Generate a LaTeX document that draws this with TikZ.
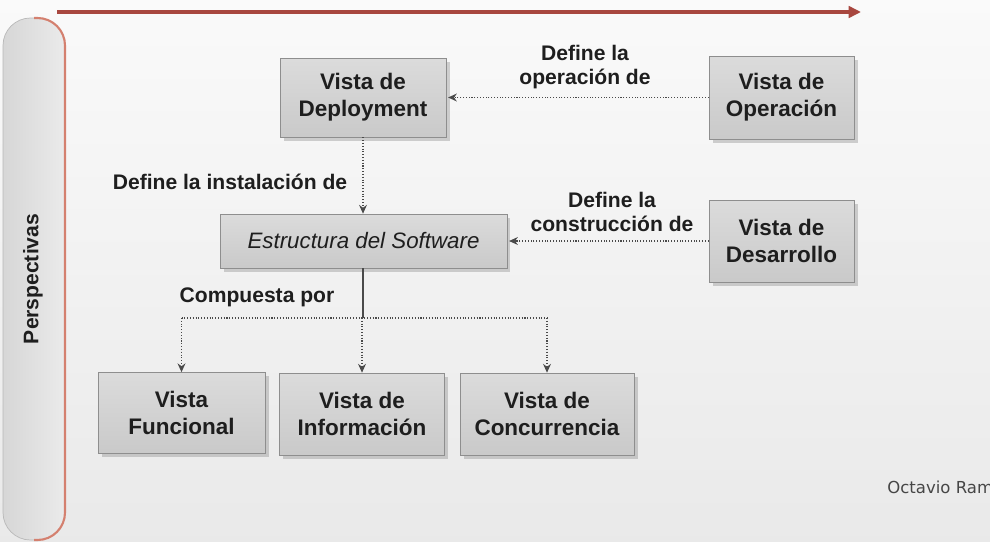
\documentclass[tikz,border=0pt]{standalone}
\usepackage{fontspec}
\setmainfont{Liberation Sans}
\newfontfamily\notefont{DejaVu Sans}
\usetikzlibrary{arrows.meta,positioning,shadows}
\definecolor{vborder}{HTML}{8E8E8E}
\definecolor{vline}{HTML}{4A4A4A}
\definecolor{vred}{HTML}{A8473F}
\definecolor{vpanelred}{HTML}{D4806F}
\definecolor{vtext}{HTML}{1E1E1E}

\begin{document}
\begin{tikzpicture}[x=0.02cm, y=-0.02cm,
    every node/.style={align=center, text=vtext},
    viewbox/.style={draw=vborder, inner sep=0pt,
      top color=gray!28, middle color=gray!6, bottom color=gray!42,
      drop shadow={opacity=0.35, shadow xshift=2pt, shadow yshift=-2pt},
      font=\fontsize{12.8}{15.3}\selectfont\bfseries},
    notelabel/.style={font=\fontsize{12}{13.2}\selectfont\bfseries},
    linkarrow/.style={densely dotted, vline, semithick,
      -{Stealth[length=5pt, width=4.5pt]}}]
  \clip (0,0) rectangle (990,541);
  % background and side panel
  \fill[top color=gray!4, bottom color=gray!17] (0,0) rectangle (990,541);
  \draw[gray!55, left color=gray!32, right color=gray!16, rounded corners=0.55cm]
    (3,18) rectangle (65,540);
  \draw[vpanelred, line width=1.2pt, rounded corners=0.55cm]
    (34,18) -| (65,540) -- (34,540);
  \node[rotate=90, font=\fontsize{12}{14}\selectfont\bfseries] (persp) at (33,279) {Perspectivas};
  % timeline arrow
  \coordinate (tl) at (57,12);
  \coordinate (tr) at (861,12);
  \draw[vred, line width=1.8pt, -{Triangle[length=7pt, width=6.5pt]}] (tl) -- (tr);

  % views
  \node[viewbox, minimum width=3.32cm, minimum height=1.58cm] (deploy) at (363,97.5) {Vista de\\Deployment};
  \node[viewbox, minimum width=2.9cm, minimum height=1.66cm] (oper) at (781.5,97.5) {Vista de\\Operación};
  \node[viewbox, minimum width=5.74cm, minimum height=1.08cm,
        font=\fontsize{12.7}{15}\selectfont\itshape] (estr) at (363.5,241) {Estructura del Software};
  \node[viewbox, minimum width=2.9cm, minimum height=1.64cm] (desa) at (781.5,241) {Vista de\\Desarrollo};
  \node[viewbox, minimum width=3.34cm, minimum height=1.62cm] (func) at (181.5,413) {Vista\\Funcional};
  \node[viewbox, minimum width=3.3cm, minimum height=1.64cm] (info) at (362,414) {Vista de\\Información};
  \node[viewbox, minimum width=3.48cm, minimum height=1.64cm] (conc) at (547,414) {Vista de\\Concurrencia};

  % labels
  \node[notelabel] (lbloper) at (585,67) {Define la\\operación de};
  \node[notelabel] (lblinst) at (230,182) {Define la instalación de};
  \node[notelabel] (lblcons) at (612,212) {Define la\\construcción de};
  \node[notelabel] (lblcomp) at (257,297) {Compuesta por};

  % connectors
  \draw[linkarrow, shorten >=1pt] (oper.west) -- (deploy.east);
  \draw[linkarrow] (deploy.south) -- (deploy.south |- estr.north);
  \draw[linkarrow, shorten >=1pt] (desa.west) -- (estr.east);
  \coordinate (split) at (363,318);
  \draw[vline, semithick] (estr.south -| split) -- (split);
  \draw[densely dotted, vline, semithick] (func.north |- split) -- (conc.north |- split);
  \foreach \v in {func,info,conc}
    \draw[linkarrow] (\v.north |- split) -- (\v.north);

  \node[anchor=west, inner sep=0pt, text=gray!55!black, font=\notefont\fontsize{9.4}{11}\selectfont] (author) at (887,487) {Octavio Ram};
\end{tikzpicture}
\end{document}
